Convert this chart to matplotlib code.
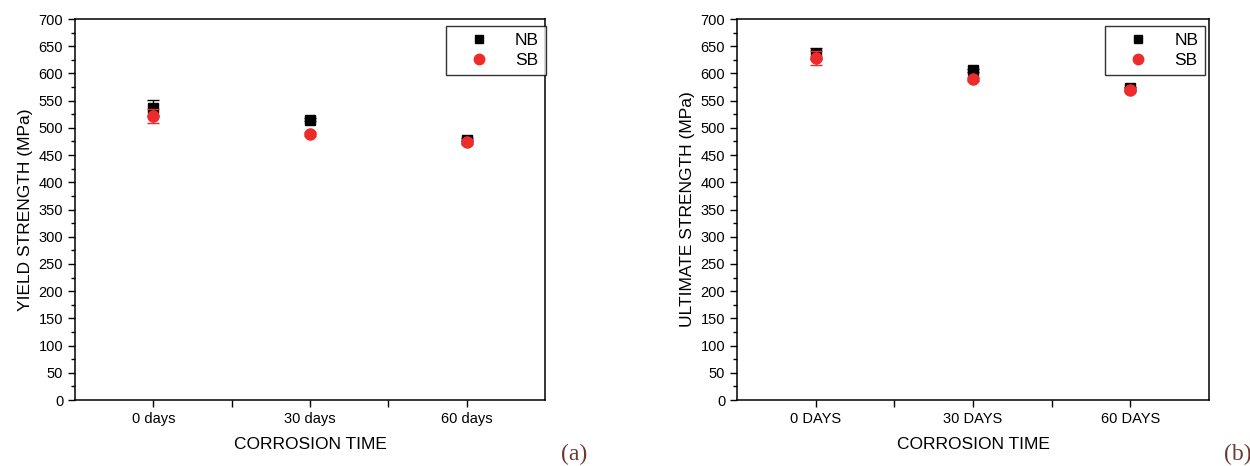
import matplotlib
matplotlib.use("Agg")
import matplotlib.pyplot as plt
import numpy as np
from matplotlib.ticker import MultipleLocator
from matplotlib.lines import Line2D

plt.rcParams['font.family'] = ['Liberation Sans', 'DejaVu Sans']

# data
days_a = ['0 days', '30 days', '60 days']
days_b = ['0 DAYS', '30 DAYS', '60 DAYS']
ys_nb = [537, 515, 478]
ys_nb_err = [15, 3, 3]
ys_sb = [522, 489, 474]
ys_sb_err = [13, 4, 4]
uts_nb = [636, 606, 573]
uts_nb_err = [10, 3, 3]
uts_sb = [628, 590, 570]
uts_sb_err = [13, 3, 3]

red = '#ee2b2b'

fig = plt.figure(figsize=(12.5, 4.66), dpi=100)
ax1 = fig.add_axes([0.06, 0.1416, 0.376, 0.8176])
ax2 = fig.add_axes([0.5896, 0.1416, 0.3776, 0.8176])


def panel(ax, labels, nb, nb_err, sb, sb_err, ylabel, tag, legx):
    x = np.arange(1, len(labels) + 1)
    ax.errorbar(x, nb, yerr=nb_err, fmt='s', color='black', ms=6.5,
                capsize=4, elinewidth=1, zorder=3)
    ax.errorbar(x, sb, yerr=sb_err, fmt='o', color=red, ecolor=red, ms=8,
                capsize=4, elinewidth=1, zorder=4)
    ax.set_xlim(0.5, 3.5)
    ax.set_ylim(0, 700)
    ax.set_xticks(x)
    ax.set_xticklabels(labels, fontsize=10)
    ax.set_xticks([1.5, 2.5], minor=True)
    ax.yaxis.set_major_locator(MultipleLocator(50))
    ax.yaxis.set_minor_locator(MultipleLocator(25))
    ax.tick_params(axis='both', which='major', direction='out', length=5,
                   width=1, labelsize=10.5)
    ax.tick_params(axis='both', which='minor', direction='out', length=3, width=1)
    ax.tick_params(axis='x', which='minor', length=5)
    for s in ax.spines.values():
        s.set_linewidth(1.1)
    ax.set_xlabel('CORROSION TIME', fontsize=12.5, labelpad=8)
    ax.set_ylabel(ylabel, fontsize=12.5, labelpad=4)
    # legend shows markers only, no error bars
    handles = [Line2D([], [], ls='none', marker='s', color='black', ms=6),
               Line2D([], [], ls='none', marker='o', color=red, ms=7.5)]
    leg = ax.legend(handles, ['NB', 'SB'], loc='upper right',
                    bbox_to_anchor=(legx, 0.982), borderaxespad=0,
                    fontsize=12.5, frameon=True, fancybox=False,
                    edgecolor='black', handlelength=3.0, handletextpad=0.6,
                    borderpad=0.4, labelspacing=0.3)
    leg.get_frame().set_linewidth(1.0)
    ax.text(1.062, -0.144, tag, transform=ax.transAxes, fontsize=17,
            family=['Liberation Serif', 'DejaVu Serif'], color='#6b3a32',
            ha='center', va='center')


panel(ax1, days_a, ys_nb, ys_nb_err, ys_sb, ys_sb_err, 'YIELD STRENGTH (MPa)', '(a)', 1.002)
panel(ax2, days_b, uts_nb, uts_nb_err, uts_sb, uts_sb_err, 'ULTIMATE STRENGTH (MPa)', '(b)', 0.992)

fig.savefig('out.png', dpi=100)
